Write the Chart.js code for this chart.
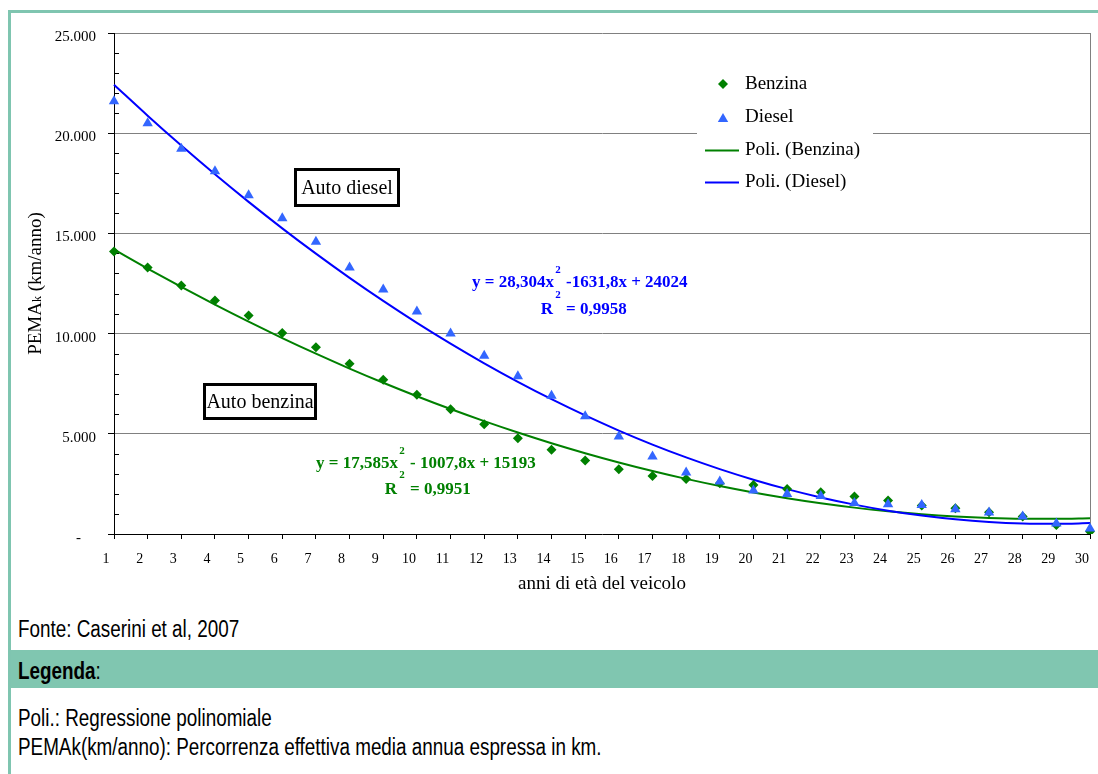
<!DOCTYPE html>
<html lang="it">
<head>
<meta charset="utf-8">
<title>PEMAk per anni di età del veicolo</title>
<script src="https://cdn.jsdelivr.net/npm/chart.js@4.4.1/dist/chart.umd.min.js"></script>
<style>
  html, body { margin: 0; padding: 0; background: #fff; }
  body { width: 1098px; height: 774px; position: relative; overflow: hidden; }
  #frameTop { position: absolute; left: 8px; top: 10px; width: 1090px; height: 3px; background: #7fc5b0; }
  #frameLeft { position: absolute; left: 8px; top: 10px; width: 3px; height: 764px; background: #7fc5b0; }
  #band { position: absolute; left: 8px; top: 650px; width: 1090px; height: 38px; background: #80c6b0; }
  #chartBox { position: absolute; left: 0; top: 0; width: 1098px; height: 605px; }
  .note {
    position: absolute; left: 18px;
    font-family: "Liberation Sans", Arial, sans-serif; font-size: 23px; line-height: 26px;
    transform: scaleX(0.82); transform-origin: 0 50%;
    white-space: nowrap; color: #000;
  }
</style>
</head>
<body>
<div id="frameTop"></div>
<div id="band"></div>
<div id="frameLeft"></div>
<div id="chartBox"><canvas id="c" width="1098" height="605"></canvas></div>
<div class="note" style="top:616px">Fonte: Caserini et al, 2007</div>
<div class="note" style="top:658px"><b>Legenda</b>:</div>
<div class="note" style="top:705px">Poli.: Regressione polinomiale</div>
<div class="note" style="top:734px">PEMAk(km/anno): Percorrenza effettiva media annua espressa in km.</div>

<script>
// Età del veicolo (anni)
const anni = ['1','2','3','4','5','6','7','8','9','10','11','12','13','14','15',
              '16','17','18','19','20','21','22','23','24','25','26','27','28','29','30'];

// Percorrenza effettiva media annua (km/anno)
const benzina = [14100, 13300, 12400, 11650, 10900, 10030, 9320, 8500, 7700, 6950,
                 6220, 5480, 4780, 4200, 3670, 3230, 2900, 2750, 2530, 2450,
                 2250, 2080, 1870, 1670, 1420, 1280, 1080, 870, 450, 120];
const diesel = [21600, 20500, 19230, 18100, 16900, 15750, 14580, 13300, 12200, 11100,
                10000, 8900, 7870, 6900, 5870, 4870, 3870, 3070, 2620, 2170,
                2000, 1900, 1550, 1480, 1450, 1230, 1070, 870, 530, 280];

// Regressione polinomiale (2° grado), valori per ciascun anno
// Benzina: y = 17,585x² - 1007,8x + 15193
const trendBenzina = [14203, 13248, 12328, 11443, 10594, 9779, 9000, 8256, 7547, 6874,
                      6235, 5632, 5064, 4531, 4033, 3570, 3143, 2750, 2393, 2071,
                      1784, 1533, 1316, 1135, 989, 878, 802, 761, 756, 786];
// Diesel: y = 28,304x² - 1631,8x + 24024
const trendDiesel = [22420, 20874, 19383, 17950, 16573, 15252, 13988, 12781, 11630, 10536,
                     9499, 8518, 7594, 6726, 5915, 5161, 4463, 3822, 3238, 2710,
                     2238, 1824, 1465, 1164, 919, 731, 599, 524, 506, 544];

// Etichette dell'asse verticale (passo 5.000)
const yTickLabels = ['-', '5.000', '10.000', '15.000', '20.000', '25.000'];

const VERDE = '#008000';
const BLU = '#0000ff';
const AZZURRO = '#3366ff';
const GRIGIO = '#808080';
const SERIF = '"Liberation Serif", "Times New Roman", serif';

function diamond(ctx, x, y, r, color) {
  ctx.beginPath();
  ctx.moveTo(x, y - r); ctx.lineTo(x + r, y); ctx.lineTo(x, y + r); ctx.lineTo(x - r, y);
  ctx.closePath(); ctx.fillStyle = color; ctx.fill();
}
function triangle(ctx, x, y, r, color) {
  ctx.beginPath();
  ctx.moveTo(x, y - r);
  ctx.lineTo(x + r * Math.sin(2 * Math.PI / 3), y - r * Math.cos(2 * Math.PI / 3));
  ctx.lineTo(x - r * Math.sin(2 * Math.PI / 3), y - r * Math.cos(2 * Math.PI / 3));
  ctx.closePath(); ctx.fillStyle = color; ctx.fill();
}

// Bordo destro dell'area del grafico e tacche secondarie interne (ogni 1.000)
const cornice = {
  id: 'cornice',
  beforeDatasetsDraw(chart) {
    const { ctx, chartArea: a, scales: { y } } = chart;
    ctx.save();
    ctx.strokeStyle = GRIGIO; ctx.lineWidth = 1;
    ctx.beginPath();
    ctx.moveTo(Math.round(a.right) + 0.5, a.top);
    ctx.lineTo(Math.round(a.right) + 0.5, a.bottom);
    ctx.stroke();
    ctx.strokeStyle = '#000';
    ctx.beginPath();
    for (let v = 1000; v < 25000; v += 1000) {
      if (v % 5000 === 0) continue;
      const py = Math.round(y.getPixelForValue(v)) + 0.5;
      ctx.moveTo(a.left, py); ctx.lineTo(a.left + 5, py);
    }
    ctx.stroke();
    ctx.restore();
  }
};

// Titoli degli assi, riquadri, equazioni e legenda
const testi = {
  id: 'testi',
  afterDraw(chart) {
    const ctx = chart.ctx;
    const a = chart.chartArea;
    ctx.save();

    // Titolo asse Y: PEMAk (km/anno)
    ctx.translate(34, (a.top + a.bottom) / 2);
    ctx.rotate(-Math.PI / 2);
    ctx.fillStyle = '#000';
    ctx.textBaseline = 'alphabetic';
    ctx.textAlign = 'left';
    const big = '19px ' + SERIF, small = '12px ' + SERIF;
    ctx.font = big; const w1 = ctx.measureText('PEMA').width;
    ctx.font = small; const w2 = ctx.measureText('k').width;
    ctx.font = big; const w3 = ctx.measureText(' (km/anno)').width;
    let sx = -(w1 + w2 + w3) / 2;
    ctx.font = big; ctx.fillText('PEMA', sx, 7); sx += w1;
    ctx.font = small; ctx.fillText('k', sx, 7); sx += w2;
    ctx.font = big; ctx.fillText(' (km/anno)', sx, 7);
    ctx.setTransform(1, 0, 0, 1, 0, 0);

    // Titolo asse X
    ctx.font = '19px ' + SERIF;
    ctx.textAlign = 'center'; ctx.textBaseline = 'middle';
    ctx.fillText('anni di età del veicolo', (a.left + a.right) / 2, 584);

    // Riquadri descrittivi
    function riquadro(x, y, w, h, testo) {
      ctx.fillStyle = '#fff'; ctx.fillRect(x, y, w, h);
      ctx.strokeStyle = '#000'; ctx.lineWidth = 3;
      ctx.strokeRect(x + 1.5, y + 1.5, w - 3, h - 3);
      ctx.fillStyle = '#000'; ctx.font = '20px ' + SERIF;
      ctx.textAlign = 'center'; ctx.textBaseline = 'middle';
      ctx.fillText(testo, x + w / 2, y + h / 2 + 1);
    }
    riquadro(294, 168, 106, 39, 'Auto diesel');
    riquadro(203, 383, 114, 37, 'Auto benzina');

    // Equazioni di regressione
    function equazione(color, sx, y1, y2, a1, a3, r2) {
      ctx.fillStyle = color; ctx.textBaseline = 'middle';
      ctx.font = 'bold 17px ' + SERIF;
      ctx.textAlign = 'right'; ctx.fillText(a1, sx - 4, y1);
      ctx.textAlign = 'left'; ctx.fillText(a3, sx + 8, y1);
      ctx.textAlign = 'right'; ctx.fillText('R', sx - 5, y2);
      ctx.textAlign = 'left'; ctx.fillText(r2, sx + 8, y2);
      ctx.font = 'bold 11px ' + SERIF; ctx.textAlign = 'center';
      ctx.fillText('2', sx, y1 - 13);
      ctx.fillText('2', sx, y2 - 15);
    }
    equazione(BLU, 558, 283, 310, 'y = 28,304x', '-1631,8x + 24024', '= 0,9958');
    equazione(VERDE, 402, 464, 490, 'y = 17,585x', '- 1007,8x + 15193', '= 0,9951');

    // Legenda
    ctx.fillStyle = '#fff';
    ctx.fillRect(697, 62, 176, 138);
    diamond(ctx, 723, 84, 5, VERDE);
    triangle(ctx, 723, 119, 6, AZZURRO);
    ctx.lineWidth = 2;
    ctx.strokeStyle = VERDE;
    ctx.beginPath(); ctx.moveTo(705, 150.5); ctx.lineTo(739, 150.5); ctx.stroke();
    ctx.strokeStyle = BLU;
    ctx.beginPath(); ctx.moveTo(705, 182.5); ctx.lineTo(739, 182.5); ctx.stroke();
    ctx.fillStyle = '#000'; ctx.font = '19px ' + SERIF;
    ctx.textAlign = 'left'; ctx.textBaseline = 'middle';
    ctx.fillText('Benzina', 745, 84);
    ctx.fillText('Diesel', 745, 117);
    ctx.fillText('Poli. (Benzina)', 745, 150);
    ctx.fillText('Poli. (Diesel)', 745, 182);

    ctx.restore();
  }
};

new Chart(document.getElementById('c'), {
  type: 'line',
  data: {
    labels: anni,
    datasets: [
      { label: 'Diesel', data: diesel, showLine: false, pointStyle: 'triangle',
        pointRadius: 6, pointBackgroundColor: AZZURRO, pointBorderColor: AZZURRO,
        pointBorderWidth: 0, order: 0 },
      { label: 'Benzina', data: benzina, showLine: false, pointStyle: 'rectRot',
        pointRadius: 5, pointBackgroundColor: VERDE, pointBorderColor: VERDE,
        pointBorderWidth: 0, order: 1 },
      { label: 'Poli. (Diesel)', data: trendDiesel, borderColor: BLU, borderWidth: 2,
        pointRadius: 0, cubicInterpolationMode: 'monotone', fill: false, order: 2 },
      { label: 'Poli. (Benzina)', data: trendBenzina, borderColor: VERDE, borderWidth: 2,
        pointRadius: 0, cubicInterpolationMode: 'monotone', fill: false, order: 3 }
    ]
  },
  options: {
    responsive: false,
    animation: false,
    devicePixelRatio: 1,
    layout: { padding: { left: 0, top: 33, right: 8, bottom: 0 } },
    plugins: { legend: { display: false }, tooltip: { enabled: false } },
    scales: {
      x: {
        offset: false,
        grid: { display: true, drawOnChartArea: false, drawTicks: true, tickLength: 5, tickColor: '#000' },
        border: { display: true, color: '#000', width: 1 },
        ticks: { autoSkip: false, maxRotation: 0, minRotation: 0, padding: 12, labelOffset: -8,
                 color: '#000', font: { family: SERIF, size: 14 } },
        afterFit(s) { s.height = 71; s.paddingLeft = 0; s.paddingRight = 0; }
      },
      y: {
        min: 0, max: 25000,
        grid: { color: c => (c.tick && c.tick.value === 0 ? 'rgba(0,0,0,0)' : GRIGIO),
                tickColor: '#000', tickLength: 6, lineWidth: 1 },
        border: { display: true, color: '#000', width: 1 },
        ticks: { stepSize: 5000, padding: 12, labelOffset: 4, color: '#000',
                 font: { family: SERIF, size: 15 },
                 callback: v => (v === 0 ? '-' + '\u00a0'.repeat(4) : yTickLabels[v / 5000]) },
        afterFit(s) { s.width = 114; s.paddingTop = 0; s.paddingBottom = 0; }
      }
    }
  },
  plugins: [cornice, testi]
});
</script>
</body>
</html>
